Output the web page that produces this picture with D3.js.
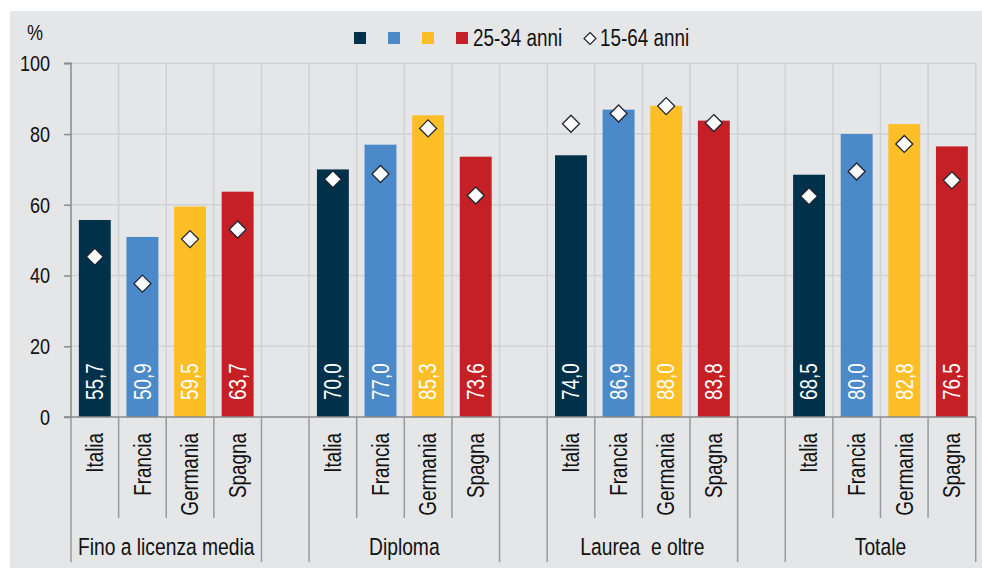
<!DOCTYPE html>
<html><head><meta charset="utf-8">
<script src="https://cdn.jsdelivr.net/npm/d3@7"></script>
<style>
html,body{margin:0;padding:0;background:#fff;}
svg{display:block;}
text{white-space:pre;}
</style></head>
<body>
<svg id="chart" width="982" height="568"></svg>
<script>
// ---- data ----
const groups = ["Fino a licenza media", "Diploma", "Laurea  e oltre", "Totale"];
const countries = ["Italia", "Francia", "Germania", "Spagna"];
const colors = ["#00314b", "#4c89c8", "#fdbe27", "#c52026"];
const young = [ // 25-34 anni
  [55.7, 50.9, 59.5, 63.7],
  [70.0, 77.0, 85.3, 73.6],
  [74.0, 86.9, 88.0, 83.8],
  [68.5, 80.0, 82.8, 76.5]
];
const all = [ // 15-64 anni
  [45.3, 37.7, 50.3, 53.0],
  [67.2, 68.7, 81.6, 62.6],
  [82.9, 85.8, 87.9, 83.1],
  [62.4, 69.4, 77.2, 66.9]
];
const yTicks = [0, 20, 40, 60, 80, 100];
const legendBarLabel = "25-34 anni";
const legendDiamondLabel = "15-64 anni";

// ---- font detection ----
const svg = d3.select("#chart");
function measure(fam) {
  const t = svg.append("text").attr("font-family", fam).attr("font-size", 40).text("Germania abc");
  const w = t.node().getComputedTextLength(); t.remove(); return w;
}
const hasNarrow = measure("'Liberation Sans Narrow', monospace") !== measure("monospace");
const FONT = hasNarrow ? "'Liberation Sans Narrow', 'Arial Narrow', sans-serif" : "'Liberation Sans', Arial, sans-serif";
const SX = hasNarrow ? 1 : 0.82;

// ---- layout ----
svg.append("rect").attr("x", 10).attr("y", 11).attr("width", 972).attr("height", 557).attr("fill", "#e5e6e8");

const keys = [];
groups.forEach((g, gi) => {
  countries.forEach((c, ci) => keys.push(gi + "|" + ci));
  if (gi < groups.length - 1) keys.push("gap" + gi);
});
const x = d3.scaleBand().domain(keys).range([71, 975.7]).padding(0);
const y = d3.scaleLinear().domain([0, 100]).range([417, 63.3]);
const bw = x.bandwidth();

// grid
const grid = svg.append("g");
yTicks.filter(v => v > 0).forEach(v => {
  grid.append("line").attr("x1", 71).attr("x2", 975.7).attr("y1", y(v)).attr("y2", y(v))
    .attr("stroke", "#d0d1d3").attr("stroke-width", 1.5);
});
const bounds = keys.map(k => x(k)).concat([x.range()[1]]);
bounds.slice(1).forEach(b => {
  grid.append("line").attr("x1", b).attr("x2", b).attr("y1", y(100)).attr("y2", y(0))
    .attr("stroke", "#d0d1d3").attr("stroke-width", 1.5);
});

// text helper with narrow scaling
function txt(g, x0, y0, s, opts) {
  const rot = opts.rotate ? " rotate(-90)" : "";
  const t = g.append("text")
    .attr("transform", `translate(${x0},${y0})${rot} scale(${SX},1)`)
    .attr("font-family", FONT).attr("font-size", opts.size || 21)
    .attr("fill", opts.fill || "#111")
    .attr("text-anchor", opts.anchor || "start")
    .attr("xml:space", "preserve")
    .text(s);
  if (opts.dy) t.attr("dy", opts.dy);
  return t;
}

// bars
const bars = svg.append("g");
groups.forEach((g, gi) => {
  countries.forEach((c, ci) => {
    const k = gi + "|" + ci;
    const cx = x(k) + bw / 2;
    const w = bw * 0.67;
    bars.append("rect").attr("x", cx - w / 2).attr("width", w)
      .attr("y", y(young[gi][ci])).attr("height", y(0) - y(young[gi][ci]))
      .attr("fill", colors[ci]);
    txt(bars, cx, y(0) - 17, d3.format(".1f")(young[gi][ci]).replace(".", ","),
      {rotate: true, fill: "#fff", size: 23, dy: "0.36em"});
  });
});

// diamonds
const dsz = 8.5;
const diamond = `M0,${-dsz}L${dsz},0L0,${dsz}L${-dsz},0Z`;
groups.forEach((g, gi) => {
  countries.forEach((c, ci) => {
    const cx = x(gi + "|" + ci) + bw / 2;
    svg.append("path").attr("d", diamond)
      .attr("transform", `translate(${cx},${y(all[gi][ci])})`)
      .attr("fill", "#fff").attr("stroke", "#1e2430").attr("stroke-width", 1.3);
  });
});

// y axis
const yAxis = svg.append("g").attr("transform", "translate(71,0)")
  .call(d3.axisLeft(y).tickValues(yTicks).tickSize(7).tickFormat(""));
yAxis.select(".domain").attr("stroke", "#8a8a8a").attr("stroke-width", 1.5).attr("d", `M-7,${y(100)}H0V${y(0)}`);
yAxis.selectAll(".tick line").attr("stroke", "#8a8a8a").attr("stroke-width", 1.5);
yTicks.forEach(v => txt(svg, 50, y(v), String(v), {anchor: "end", size: 22, dy: "0.36em"}));
txt(svg, 35, 40, "%", {anchor: "middle", size: 22});

// x axis
const xa = svg.append("g");
xa.append("line").attr("x1", 64).attr("x2", 975.7).attr("y1", y(0)).attr("y2", y(0))
  .attr("stroke", "#8a8a8a").attr("stroke-width", 1.5);
const longB = new Set();
groups.forEach((g, gi) => {
  longB.add(x(gi + "|0"));
  longB.add(x(gi + "|" + (countries.length - 1)) + bw);
});
bounds.forEach(b => {
  const isLong = [...longB].some(v => Math.abs(v - b) < 0.5);
  xa.append("line").attr("x1", b).attr("x2", b).attr("y1", y(0)).attr("y2", isLong ? 562 : 518)
    .attr("stroke", "#999a9c").attr("stroke-width", 1.5);
});
groups.forEach((g, gi) => {
  countries.forEach((c, ci) => {
    const cx = x(gi + "|" + ci) + bw / 2;
    txt(xa, cx, 433, c, {rotate: true, anchor: "end", size: 23, dy: "0.36em"});
  });
  const gx = (x(gi + "|0") + x(gi + "|" + (countries.length - 1)) + bw) / 2;
  txt(xa, gx, 555, g, {anchor: "middle", size: 23.5});
});

// legend
const lg = svg.append("g");
const sqX = [354, 388, 422, 456];
colors.forEach((col, i) => lg.append("rect").attr("x", sqX[i]).attr("y", 32).attr("width", 12).attr("height", 12).attr("fill", col));
txt(lg, 473, 46, legendBarLabel, {size: 23});
lg.append("path").attr("d", `M0,-6L6,0L0,6L-6,0Z`).attr("transform", "translate(590,38.5)")
  .attr("fill", "#fff").attr("stroke", "#1e2430").attr("stroke-width", 1.2);
txt(lg, 600, 46, legendDiamondLabel, {size: 23});
</script>
</body></html>
